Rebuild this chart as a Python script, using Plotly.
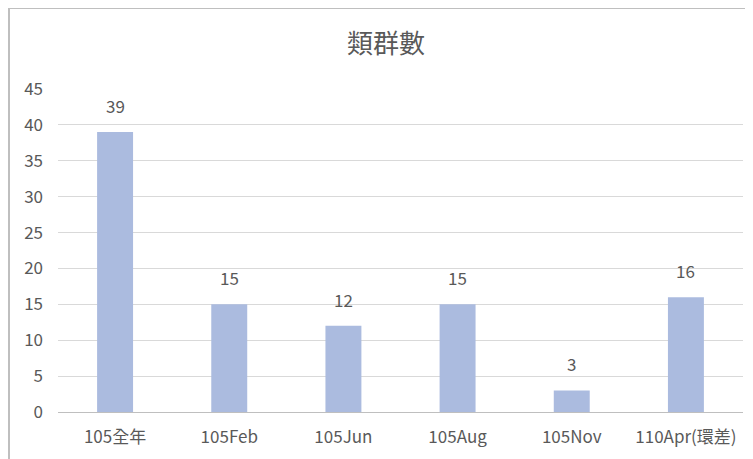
import plotly.graph_objects as go

categories = ["105全年", "105Feb", "105Jun", "105Aug", "105Nov", "110Apr(環差)"]
values = [39, 15, 12, 15, 3, 16]
y_ticks = [0, 5, 10, 15, 20, 25, 30, 35, 40, 45]

OFF = 8  # page body margin
W, H = 753 - OFF, 459 - OFF
L, R, T, B = 58 - OFF, 10, 89 - OFF, 47
pw = W - L - R
ph = H - T - B

FONT = "Liberation Sans Narrow, Noto Sans CJK TC"
GREY = "#595959"

fig = go.Figure(go.Bar(
    x=categories, y=values,
    marker=dict(color="#abbbdf", line=dict(width=0)),
))

for c, v in zip(categories, values):
    fig.add_annotation(x=c, y=v, text=str(v), showarrow=False, yanchor="bottom",
                       yshift=12, font=dict(size=17, color=GREY, family=FONT))

fig.update_layout(
    width=W, height=H,
    margin=dict(l=L, r=R, t=T, b=B),
    paper_bgcolor="white", plot_bgcolor="white",
    bargap=0.685,
    showlegend=False,
    title=dict(text="類群數", x=(386 - OFF) / W, xanchor="center", y=1 - (44 - OFF) / H, yanchor="middle",
               font=dict(size=26, color=GREY, family="Noto Sans CJK TC")),
    font=dict(family=FONT, color=GREY, size=17),
)
fig.update_yaxes(range=[0, 45], tickvals=y_ticks, showgrid=True, gridcolor="#d9d9d9", gridwidth=1,
                 zeroline=False, showline=False, ticks="", ticklabelstandoff=14,
                 tickfont=dict(size=17, color=GREY, family=FONT))
fig.update_xaxes(showline=True, linecolor="#bfbfbf", linewidth=1, ticks="", ticklabelstandoff=10,
                 tickfont=dict(size=17, color=GREY, family=FONT))

x_left = (9 - 58) / pw
y_top = (412 - 8) / ph
fig.add_shape(type="line", xref="paper", yref="paper", x0=x_left, x1=x_left, y0=-1, y1=y_top,
              line=dict(color="#bfbfbf", width=2))
fig.add_shape(type="line", xref="paper", yref="paper", x0=x_left, x1=2, y0=y_top, y1=y_top,
              line=dict(color="#bfbfbf", width=2))

fig.write_html("out.html")
